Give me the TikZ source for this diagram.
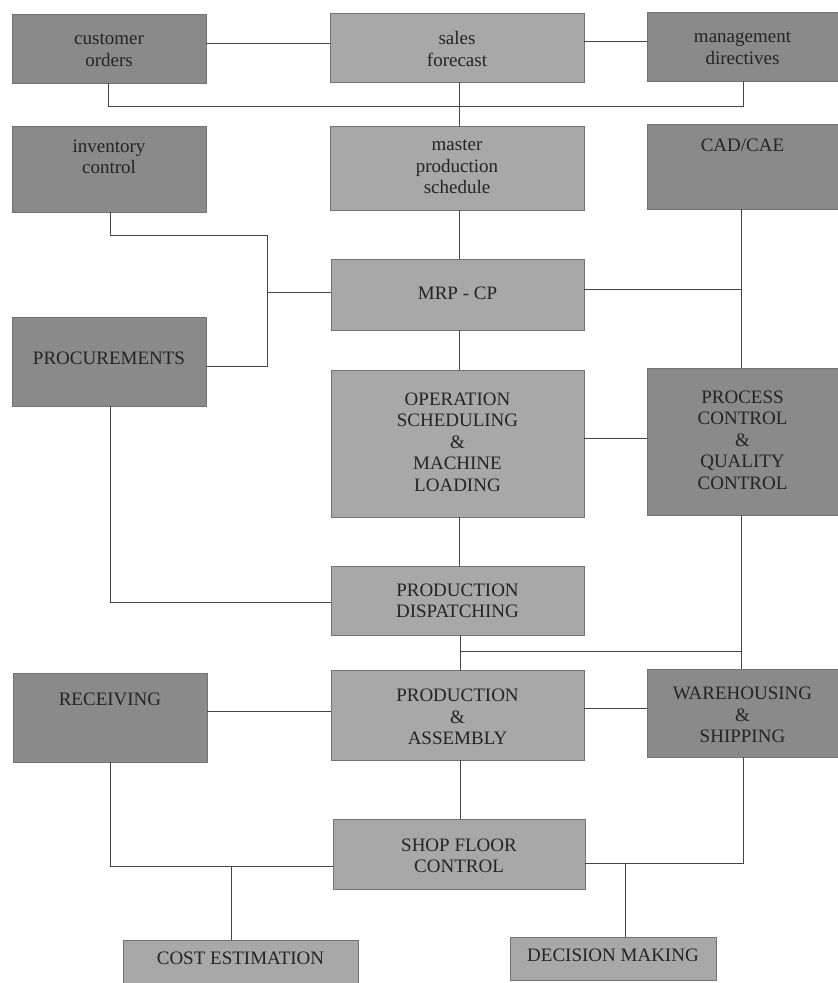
\documentclass[tikz,border=0pt]{standalone}
\usepackage{fontspec}
\setmainfont{Liberation Serif}
\definecolor{darkbox}{HTML}{8A8A8A}
\definecolor{lightbox}{HTML}{A8A8A8}
\definecolor{inkgray}{HTML}{242424}
\definecolor{linegray}{HTML}{454545}
\begin{document}
\begin{tikzpicture}[x=1pt,y=-1pt,
  boxbase/.style={rectangle, draw=black!55, line width=0.7pt, inner sep=0pt},
  darkb/.style={boxbase, fill=darkbox},
  lightb/.style={boxbase, fill=lightbox},
  lbl/.style={text=inkgray, align=center, font=\fontsize{19}{21.5}\selectfont, inner sep=0pt},
  conn/.style={draw=linegray, line width=0.9pt}]
\useasboundingbox (0,0) rectangle (838,983);
\fill[white] (0,0) rectangle (838,983);
% boxes
\node[darkb, minimum width=194pt, minimum height=69pt] (co) at (109,48.5) {};
\node[lightb, minimum width=254pt, minimum height=69pt] (sf) at (457,47.5) {};
\node[darkb, minimum width=191pt, minimum height=69pt] (md) at (742.5,46.5) {};
\node[darkb, minimum width=194pt, minimum height=86pt] (ic) at (109,169) {};
\node[lightb, minimum width=254pt, minimum height=84pt] (mps) at (457,168) {};
\node[darkb, minimum width=191pt, minimum height=85pt] (cad) at (742.5,166.5) {};
\node[lightb, minimum width=253pt, minimum height=71pt] (mrp) at (457.5,294.5) {};
\node[darkb, minimum width=194pt, minimum height=89pt] (proc) at (109,361.5) {};
\node[lightb, minimum width=253pt, minimum height=147pt] (ops) at (457.5,443.5) {};
\node[darkb, minimum width=191pt, minimum height=147pt] (pcqc) at (742.5,441.5) {};
\node[lightb, minimum width=253pt, minimum height=69pt] (pd) at (457.5,600.5) {};
\node[darkb, minimum width=194pt, minimum height=89pt] (rec) at (110,717.5) {};
\node[lightb, minimum width=253pt, minimum height=90pt] (pa) at (457.5,715) {};
\node[darkb, minimum width=191pt, minimum height=88pt] (ws) at (742.5,713) {};
\node[lightb, minimum width=252pt, minimum height=70pt] (sfc) at (459,854) {};
\node[lightb, minimum width=235pt, minimum height=50pt] (ce) at (240.5,965) {};
\node[lightb, minimum width=206pt, minimum height=43pt] (dm) at (613,958.5) {};
% labels
\node[lbl] (tco) at (109,50) {customer\\orders};
\node[lbl] (tsf) at (457,49) {sales\\forecast};
\node[lbl] (tmd) at (742.5,48) {management\\directives};
\node[lbl] (tic) at (109,157) {inventory\\control};
\node[lbl] (tmps) at (457,167) {master\\production\\schedule};
\node[lbl] (tcad) at (742.5,145) {CAD/CAE};
\node[lbl] (tmrp) at (457.5,293) {MRP - CP};
\node[lbl] (tproc) at (109,358) {PROCUREMENTS};
\node[lbl] (tops) at (457.5,442) {OPERATION\\SCHEDULING\\\&\\MACHINE\\LOADING};
\node[lbl] (tpcqc) at (742.5,440) {PROCESS\\CONTROL\\\&\\QUALITY\\CONTROL};
\node[lbl] (tpd) at (457.5,601) {PRODUCTION\\DISPATCHING};
\node[lbl] (trec) at (110,699) {RECEIVING};
\node[lbl] (tpa) at (457.5,717) {PRODUCTION\\\&\\ASSEMBLY};
\node[lbl] (tws) at (742.5,715) {WAREHOUSING\\\&\\SHIPPING};
\node[lbl] (tsfc) at (459,856) {SHOP FLOOR\\CONTROL};
\node[lbl] (tce) at (240.5,958) {COST ESTIMATION};
\node[lbl] (tdm) at (613,955) {DECISION MAKING};
% junction coordinates
\coordinate (jtop) at (743,106);
\coordinate (jco) at (108,106);
\coordinate (jic) at (110,235);
\coordinate (jv1) at (267,235);
\coordinate (jv2) at (267,366);
\coordinate (jv3) at (267,292);
\coordinate (jmrp) at (741,289);
\coordinate (jpr) at (110,602);
\coordinate (jd1) at (460,651);
\coordinate (jd2) at (741,651);
\coordinate (jre) at (110,866);
\coordinate (jce) at (231,866);
\coordinate (jsr) at (743,863);
\coordinate (jdm) at (625,863);
% connectors
\draw[conn] (co.east |- 0,43) -- (sf.west |- 0,43);
\draw[conn] (sf.east |- 0,41) -- (md.west |- 0,41);
\draw[conn] (co.south -| jco) -- (jco) -- (jtop) -- (md.south -| jtop);
\draw[conn] (sf.south -| 459,0) -- (mps.north -| 459,0);
\draw[conn] (ic.south -| jic) -- (jic) -- (jv1) -- (jv2) -- (proc.east |- jv2);
\draw[conn] (jv3) -- (mrp.west |- jv3);
\draw[conn] (mps.south -| 459,0) -- (mrp.north -| 459,0);
\draw[conn] (cad.south -| jmrp) -- (pcqc.north -| jmrp);
\draw[conn] (mrp.east |- jmrp) -- (jmrp);
\draw[conn] (mrp.south -| 459,0) -- (ops.north -| 459,0);
\draw[conn] (ops.east |- 0,438) -- (pcqc.west |- 0,438);
\draw[conn] (ops.south -| 459,0) -- (pd.north -| 459,0);
\draw[conn] (proc.south -| jpr) -- (jpr) -- (pd.west |- jpr);
\draw[conn] (pd.south -| jd1) -- (pa.north -| jd1);
\draw[conn] (jd1) -- (jd2);
\draw[conn] (pcqc.south -| jd2) -- (ws.north -| jd2);
\draw[conn] (rec.east |- 0,711) -- (pa.west |- 0,711);
\draw[conn] (pa.east |- 0,708) -- (ws.west |- 0,708);
\draw[conn] (pa.south -| jd1) -- (sfc.north -| jd1);
\draw[conn] (rec.south -| jre) -- (jre) -- (sfc.west |- jre);
\draw[conn] (jce) -- (ce.north -| jce);
\draw[conn] (sfc.east |- jsr) -- (jsr) -- (ws.south -| jsr);
\draw[conn] (jdm) -- (dm.north -| jdm);
\end{tikzpicture}
\end{document}
